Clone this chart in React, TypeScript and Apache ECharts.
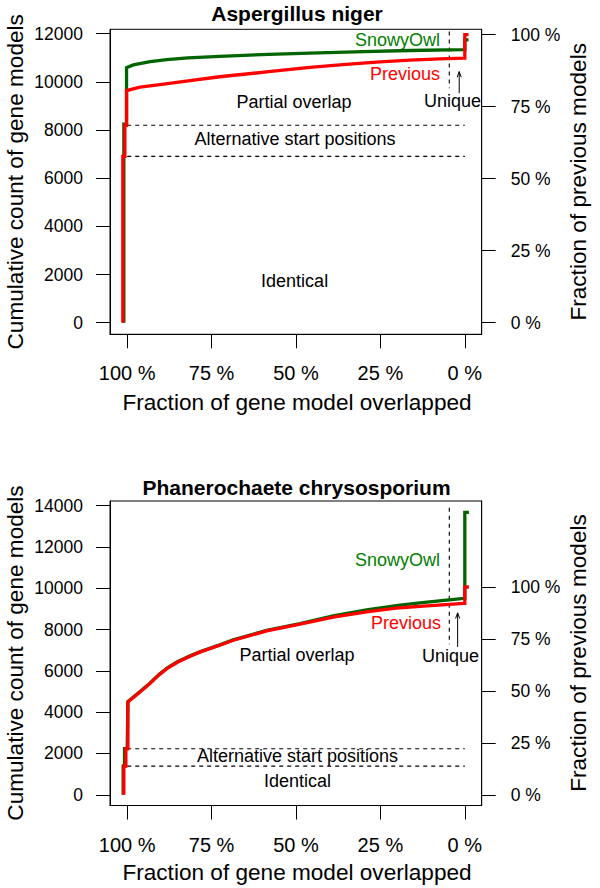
import React, { useEffect, useRef } from "react";
import * as echarts from "echarts";

// ---------- data ----------
const pctTicks = [0, 25, 50, 75, 100];
const countTicksTop = [0, 2000, 4000, 6000, 8000, 10000, 12000];
const countTicksBottom = [0, 2000, 4000, 6000, 8000, 10000, 12000, 14000];

const topTitle = "Aspergillus niger";
const bottomTitle = "Phanerochaete chrysosporium";

// total number of previous models (= 100 % on right axis)
const topPreviousTotal = 11960;
const bottomPreviousTotal = 10065;

// category boundaries (count)
const topIdenticalCut = 6905;
const topAltStartCut = 8195;
const bottomIdenticalCut = 1388;
const bottomAltStartCut = 2232;
const uniqueCutPct = 4.6;

// [fraction overlapped (%), cumulative count]
const topSnowyOwl: [number, number][] = [
  [101.0, 0], [101.0, 8240], [100.2, 8240], [100.2, 10590], [98.2, 10700],
  [93.2, 10840], [88.3, 10920], [82.0, 10990], [72.6, 11060], [58.1, 11140],
  [45.9, 11190], [30.0, 11250], [16.3, 11300], [0.3, 11340], [0, 11340],
  [0, 11740], [-1.1, 11740],
];
const topPrevious: [number, number][] = [
  [101.3, 0], [101.3, 6905], [100.7, 6905], [100.7, 8195], [100.2, 8195],
  [100.2, 9635], [96.2, 9776], [90.3, 9880], [80.8, 10060], [72.6, 10210],
  [58.1, 10420], [45.9, 10600], [35.2, 10720], [25.1, 10830], [16.3, 10900],
  [7.4, 10950], [0.3, 10980], [0, 10980], [0, 11960], [-1.1, 11960],
];
const bottomSnowyOwl: [number, number][] = [
  [101.2, 0], [101.2, 1388], [100.8, 1388], [100.8, 2232], [100.0, 2232],
  [99.8, 4520], [96.2, 5000], [93.3, 5400], [90.5, 5840], [88.0, 6160],
  [85.0, 6460], [81.5, 6720], [78.5, 6930], [72.6, 7260], [68.6, 7500],
  [58.7, 7960], [48.8, 8290], [39.0, 8670], [29.1, 8950], [19.2, 9190],
  [13.3, 9300], [0.3, 9510], [0, 9510], [0, 13683], [-1.2, 13683],
];
const bottomPrevious: [number, number][] = [
  [101.0, 0], [101.0, 1388], [100.4, 1388], [100.4, 2232], [99.8, 2232],
  [99.8, 4490], [96.2, 4978], [93.3, 5386], [90.5, 5820], [88.0, 6140],
  [85.0, 6430], [81.5, 6700], [78.5, 6910], [72.6, 7244], [68.6, 7487],
  [58.7, 7938], [48.8, 8263], [39.0, 8600], [29.1, 8860], [19.2, 9060],
  [13.3, 9130], [0.3, 9267], [0, 9267], [0, 10065], [-1.2, 10065],
];

// annotation lines (dashed vertical extent, arrow shaft)
const topUniqueLine: [number, number] = [12085, 9734];
const bottomUniqueLine: [number, number] = [13906, 7293];
const topArrow = { x: 1.66, from: 9527, to: 10423, headX: 0.61, headY: 233 };
const bottomArrow = { x: 2.13, from: 7162, to: 8811, headX: 0.61, headY: 272 };

// ---------- styles ----------
const FONT = "'Liberation Sans', Arial, Helvetica, sans-serif";
const GREEN = "#006400";
const RED = "#ff0000";

const panels = [
  { top: 29.3, height: 305, ymin: -480, ymax: 12180, ticks: countTicksTop, total: topPreviousTotal },
  { top: 501, height: 304.5, ymin: -520, ymax: 14230, ticks: countTicksBottom, total: bottomPreviousTotal },
];

function xAxisFor(i: number) {
  return {
    type: "value",
    gridIndex: i,
    inverse: true,
    min: -5,
    max: 105.1,
    splitLine: { show: false },
    axisLine: { show: true, onZero: false, lineStyle: { color: "#000", width: 1 } },
    axisTick: { show: true, inside: false, length: 14, customValues: pctTicks, lineStyle: { color: "#000", width: 1 } },
    axisLabel: {
      show: true, customValues: pctTicks, margin: 29, fontSize: 20, color: "#000", fontFamily: FONT,
      formatter: (v: number) => `${v} %`,
    },
  };
}

function yAxesFor(i: number) {
  const p = panels[i];
  const left = {
    type: "value",
    gridIndex: i,
    position: "left",
    min: p.ymin,
    max: p.ymax,
    splitLine: { show: false },
    axisLine: { show: true, onZero: false, lineStyle: { color: "#000", width: 1 } },
    axisTick: { show: true, inside: false, length: 14, customValues: p.ticks, lineStyle: { color: "#000", width: 1 } },
    axisLabel: {
      show: true, customValues: p.ticks, margin: 27, fontSize: 17.5, color: "#000", fontFamily: FONT,
      formatter: (v: number) => String(v),
    },
  };
  const right = {
    type: "value",
    gridIndex: i,
    position: "right",
    min: (p.ymin / p.total) * 100,
    max: (p.ymax / p.total) * 100,
    splitLine: { show: false },
    axisLine: { show: true, onZero: false, lineStyle: { color: "#000", width: 1 } },
    axisTick: { show: true, inside: false, length: 14, customValues: pctTicks, lineStyle: { color: "#000", width: 1 } },
    axisLabel: {
      show: true, customValues: pctTicks, margin: 29, fontSize: 17.5, color: "#000", fontFamily: FONT,
      formatter: (v: number) => `${v} %`,
    },
  };
  return [left, right];
}

function lineSeries(i: number, data: any[], color: string, width: number, dashed = false, z = 2) {
  return {
    type: "line",
    xAxisIndex: i,
    yAxisIndex: i * 2,
    data,
    symbol: "none",
    silent: true,
    z,
    connectNulls: false,
    lineStyle: { color, width, type: dashed ? [4, 4] : "solid", cap: "butt", join: "miter" },
  };
}

function panelSeries(
  i: number,
  snowy: [number, number][],
  prev: [number, number][],
  identCut: number,
  altCut: number,
  uniq: [number, number],
  arrow: { x: number; from: number; to: number; headX: number; headY: number }
) {
  return [
    lineSeries(i, [[100, altCut], [0, altCut]], "#000", 1.1, true, 1),
    lineSeries(i, [[100, identCut], [0, identCut]], "#000", 1.1, true, 1),
    lineSeries(i, [[uniqueCutPct, uniq[0]], [uniqueCutPct, uniq[1]]], "#000", 1.1, true, 1),
    lineSeries(i, [[arrow.x, arrow.from], [arrow.x, arrow.to]], "#000", 1, false, 1),
    lineSeries(
      i,
      [[arrow.x + arrow.headX, arrow.to - arrow.headY], [arrow.x, arrow.to], [arrow.x - arrow.headX, arrow.to - arrow.headY]],
      "#000", 1, false, 1
    ),
    lineSeries(i, snowy, GREEN, 3.3, false, 3),
    lineSeries(i, prev, RED, 3.3, false, 4),
  ];
}

function txt(text: string, x: number, y: number, size: number, opts: any = {}) {
  return {
    type: "text",
    x,
    y,
    rotation: opts.rotation || 0,
    silent: true,
    style: {
      text,
      x: 0,
      y: 0,
      fill: opts.color || "#000",
      font: `${opts.bold ? "bold " : ""}${size}px ${FONT}`,
      textAlign: opts.align || "center",
      textVerticalAlign: "middle",
    },
  };
}

export default function App() {
  const ref = useRef<HTMLDivElement>(null);
  useEffect(() => {
    if (!ref.current) return;
    const chart = echarts.init(ref.current, undefined, { renderer: "svg" });
    const option: any = {
      animation: false,
      backgroundColor: "#fff",
      grid: panels.map((p) => ({
        left: 110,
        width: 371.7,
        top: p.top,
        height: p.height,
        show: true,
        borderColor: "#000",
        borderWidth: 1,
        backgroundColor: "transparent",
        containLabel: false,
      })),
      xAxis: [xAxisFor(0), xAxisFor(1)],
      yAxis: [...yAxesFor(0), ...yAxesFor(1)],
      series: [
        ...panelSeries(0, topSnowyOwl, topPrevious, topIdenticalCut, topAltStartCut, topUniqueLine, topArrow),
        ...panelSeries(1, bottomSnowyOwl, bottomPrevious, bottomIdenticalCut, bottomAltStartCut, bottomUniqueLine, bottomArrow),
      ],
      graphic: [
        // top panel
        txt(topTitle, 297, 13, 21, { bold: true }),
        txt("SnowyOwl", 440, 40, 18, { align: "right", color: "#008000" }),
        txt("Previous", 440, 74, 18, { align: "right", color: RED }),
        txt("Partial overlap", 294, 101.5, 18),
        txt("Unique", 452.5, 101, 18),
        txt("Alternative start positions", 295, 139.3, 18),
        txt("Identical", 294.6, 280.7, 18),
        txt("Fraction of gene model overlapped", 297, 402, 22.6),
        txt("Cumulative count of gene models", 15.5, 181.8, 22.6, { rotation: Math.PI / 2 }),
        txt("Fraction of previous models", 578, 181.8, 22.6, { rotation: Math.PI / 2 }),
        // bottom panel
        txt(bottomTitle, 296.5, 487, 21, { bold: true }),
        txt("SnowyOwl", 440, 560, 18, { align: "right", color: "#008000" }),
        txt("Previous", 441, 623.3, 18, { align: "right", color: RED }),
        txt("Partial overlap", 297, 655, 18),
        txt("Unique", 450.5, 656, 18),
        txt("Alternative start positions", 297.5, 756, 18),
        txt("Identical", 297.5, 781, 18),
        txt("Fraction of gene model overlapped", 297, 872.5, 22.6),
        txt("Cumulative count of gene models", 15.5, 653, 22.6, { rotation: Math.PI / 2 }),
        txt("Fraction of previous models", 578, 653, 22.6, { rotation: Math.PI / 2 }),
      ],
    };
    chart.setOption(option);
    return () => chart.dispose();
  }, []);
  return (
    <div
      ref={ref}
      style={{ position: "fixed", left: 0, top: 0, width: 600, height: 888, background: "#fff" }}
    />
  );
}
